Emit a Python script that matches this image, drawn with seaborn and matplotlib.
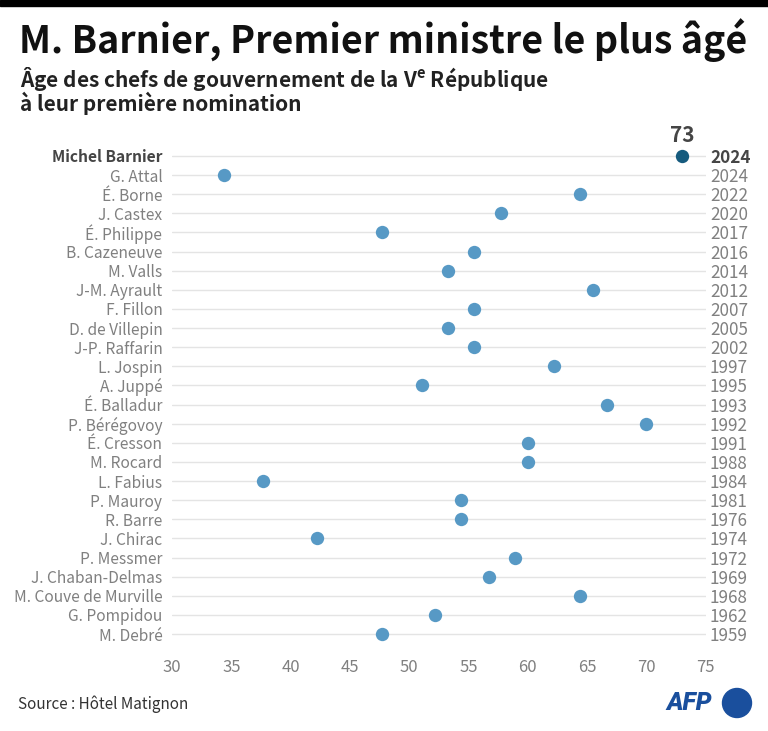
import numpy as np
import pandas as pd
import matplotlib
matplotlib.use("Agg")
import matplotlib.pyplot as plt
from matplotlib.patches import Rectangle, Ellipse
import seaborn as sns

# ── DATA ──────────────────────────────────────────────────────────────
names = ["Michel Barnier", "G. Attal", "É. Borne", "J. Castex", "É. Philippe",
         "B. Cazeneuve", "M. Valls", "J-M. Ayrault", "F. Fillon", "D. de Villepin",
         "J-P. Raffarin", "L. Jospin", "A. Juppé", "É. Balladur", "P. Bérégovoy",
         "É. Cresson", "M. Rocard", "L. Fabius", "P. Mauroy", "R. Barre",
         "J. Chirac", "P. Messmer", "J. Chaban-Delmas", "M. Couve de Murville",
         "G. Pompidou", "M. Debré"]
years = ["2024", "2024", "2022", "2020", "2017", "2016", "2014", "2012", "2007",
         "2005", "2002", "1997", "1995", "1993", "1992", "1991", "1988", "1984",
         "1981", "1976", "1974", "1972", "1969", "1968", "1962", "1959"]
ages = [73, 34.4, 64.4, 57.7, 47.7, 55.5, 53.3, 65.5, 55.5, 53.3,
        55.5, 62.2, 51.1, 66.7, 70.0, 60.0, 60.0, 37.7, 54.4, 54.4,
        42.2, 58.9, 56.7, 64.4, 52.2, 47.7]
x_ticks = [30, 35, 40, 45, 50, 55, 60, 65, 70, 75]

df = pd.DataFrame({"nom": names, "age": ages, "annee": years})
df["groupe"] = ["barnier"] + ["autres"] * (len(names) - 1)

# ── STYLE ─────────────────────────────────────────────────────────────
sns.set_style("white")
# Latin glyphs of Noto Sans CJK come from Source Sans, close to the AFP font
plt.rcParams["font.family"] = ["Noto Sans CJK SC", "DejaVu Sans"]
plt.rcParams["mathtext.fontset"] = "custom"
plt.rcParams["mathtext.rm"] = "Noto Sans CJK SC"
plt.rcParams["mathtext.bf"] = "Noto Sans CJK SC:bold"

fig = plt.figure(figsize=(7.68, 7.31), dpi=100)
ax = fig.add_axes([0.224, 0.1196, 0.695, 0.6801])

palette = {"barnier": "#165b7e", "autres": "#5799c5"}
sns.stripplot(data=df, x="age", y="nom", hue="groupe", order=names,
              palette=palette, jitter=False, size=9.6, linewidth=0,
              legend=False, ax=ax, zorder=3)

ax.set_xlim(30, 75)
ax.set_ylim(len(names) - 0.5, -0.5)
ax.set_xticks(x_ticks)
ax.set_xlabel("")
ax.set_ylabel("")
sns.despine(ax=ax, left=True, bottom=True)
ax.yaxis.grid(True, color="#e4e4e4", lw=1)
ax.xaxis.grid(False)
ax.set_axisbelow(True)

grey = "#808080"
ax.tick_params(axis="x", length=5, width=0.8, color="#cccccc",
               labelcolor=grey, labelsize=12, pad=6)
ax.tick_params(axis="y", length=0, labelcolor=grey, labelsize=11.2, pad=7)
first = ax.get_yticklabels()[0]
first.set_fontweight("bold")
first.set_color("#454545")

# years on the right
ax2 = ax.twinx()
ax2.set_ylim(ax.get_ylim())
ax2.set_yticks(range(len(years)))
ax2.set_yticklabels(years)
sns.despine(ax=ax2, left=True, bottom=True, right=True)
ax2.tick_params(axis="y", length=0, labelcolor=grey, labelsize=12.3, pad=3)
y0 = ax2.get_yticklabels()[0]
y0.set_fontweight("bold")
y0.set_color("#454545")

# value above Barnier
ax.annotate(f"{ages[0]:g}", (ages[0], 0), xytext=(0, 7),
            textcoords="offset points", ha="center", va="bottom",
            fontsize=15, fontweight="bold", color="#454545")

# ── TITLES / FOOTER ───────────────────────────────────────────────────
fig.add_artist(Rectangle((0, 1 - 6 / 731), 1, 6 / 731, color="black",
                         transform=fig.transFigure))
fig.text(19 / 768, 1 - 40 / 731, "M. Barnier, Premier ministre le plus âgé",
         fontweight="bold", fontsize=27, va="center", ha="left",
         color="#111111")
fig.text(20 / 768, 1 - 79 / 731,
         r"Âge des chefs de gouvernement de la V$^{\mathbf{e}}$ République",
         fontweight="bold", fontsize=15, va="center", ha="left",
         color="#222222")
fig.text(20 / 768, 1 - 103 / 731, "à leur première nomination",
         fontweight="bold", fontsize=15, va="center", ha="left",
         color="#222222")

fig.text(18 / 768, 1 - 704 / 731, "Source : Hôtel Matignon", fontsize=11,
         va="center", ha="left", color="#333333")
fig.text(666 / 768, 1 - 703 / 731, "AFP", family=["Roboto", "DejaVu Sans"],
         fontsize=18, fontweight="black", style="italic", va="center",
         ha="left", color="#1a4f9d")
fig.add_artist(Ellipse((737 / 768, 1 - 703 / 731), 29 / 768, 29 / 731,
                       color="#1a4f9d", transform=fig.transFigure))

fig.savefig("out.png", dpi=100)
